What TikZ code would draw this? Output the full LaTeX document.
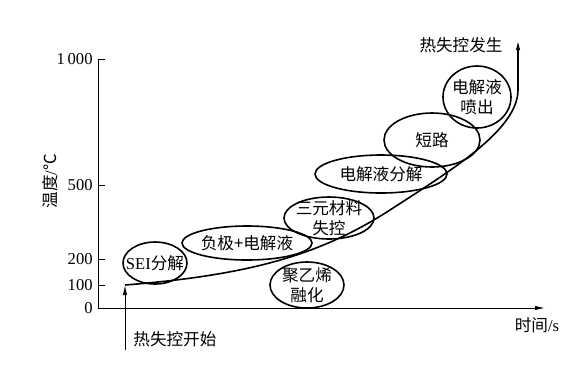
\documentclass[tikz,border=0pt]{standalone}
\usepackage{fontspec}
\setmainfont{Liberation Serif}
\newfontfamily\cjk{Noto Sans CJK SC}
\usetikzlibrary{arrows.meta}
\begin{document}
\begin{tikzpicture}[x=0.5pt,y=-0.5pt,font=\fontsize{8.3}{10}\selectfont]
        %estilos
        \tikzset{eje/.style={line width=0.5pt},
            burbuja/.style={line width=0.8pt},
            punta/.style={-{Latex[length=5pt,width=2.2pt]}},
            rotulo/.style={font=\fontsize{8.3}{10}\selectfont\cjk,align=center,inner sep=0pt}}
        \useasboundingbox (0,0) rectangle (569,372);

        %Ejes y numeracion
        \coordinate (origen) at (98,308);
        \coordinate (xfin) at (545,308);
        \coordinate (yfin) at (98,59);
        \draw[eje,punta] (origen) -- (xfin);
        \draw[eje] (origen) -- (yfin);
        \node (xlabel) at (537,325) {{\cjk 时间}/s};
        \node[rotate=90] (ylabel) at (50,181) {{\cjk 温度}/{\cjk ℃}};
        \foreach \y/\ytext in {308/0, 285/100, 259/200, 185/500, 59/1\,000}
        {
            \draw[eje] (98,\y) -- (105,\y);
            \node[left,inner sep=1pt] (t\y) at (95,\y) {\ytext};
        }

        % Curva de temperatura
        \coordinate (inicio) at (125,285);
        \coordinate (pico) at (518,90);
        \coordinate (fin) at (518,40);
        \draw[burbuja,punta] (inicio) .. controls (250,275) and (320,255) .. (390,210)
            .. controls (450,171) and (518,130) .. (pico) -- (fin);

        % Burbujas
        \foreach \cx/\cy/\rx/\ry/\nombre/\txt in {155/263/32/21/sei/{{\rmfamily SEI}分解},
            247/243/65/17/neg/{负极+电解液}, 307/285/37/23/pe/{聚乙烯\\融化},
            329/218/45/21/ncm/{三元材料\\失控}, 381/174/66/19/elec/{电解液分解},
            432/140/48/27/corto/{短路}, 477/97/34/31/chorro/{电解液\\喷出}}
            \draw[burbuja] (\cx,\cy) ellipse [x radius=\rx, y radius=\ry]
                node[rotulo] (\nombre) {\txt};

        % Flechas y textos
        \coordinate (abajo) at (125,350);
        \draw[eje,punta] (abajo) -- (inicio);
        \node[rotulo,anchor=west] (empieza) at (133,339) {热失控开始};
        \node[rotulo] (ocurre) at (461,45) {热失控发生};
    \end{tikzpicture}
\end{document}
